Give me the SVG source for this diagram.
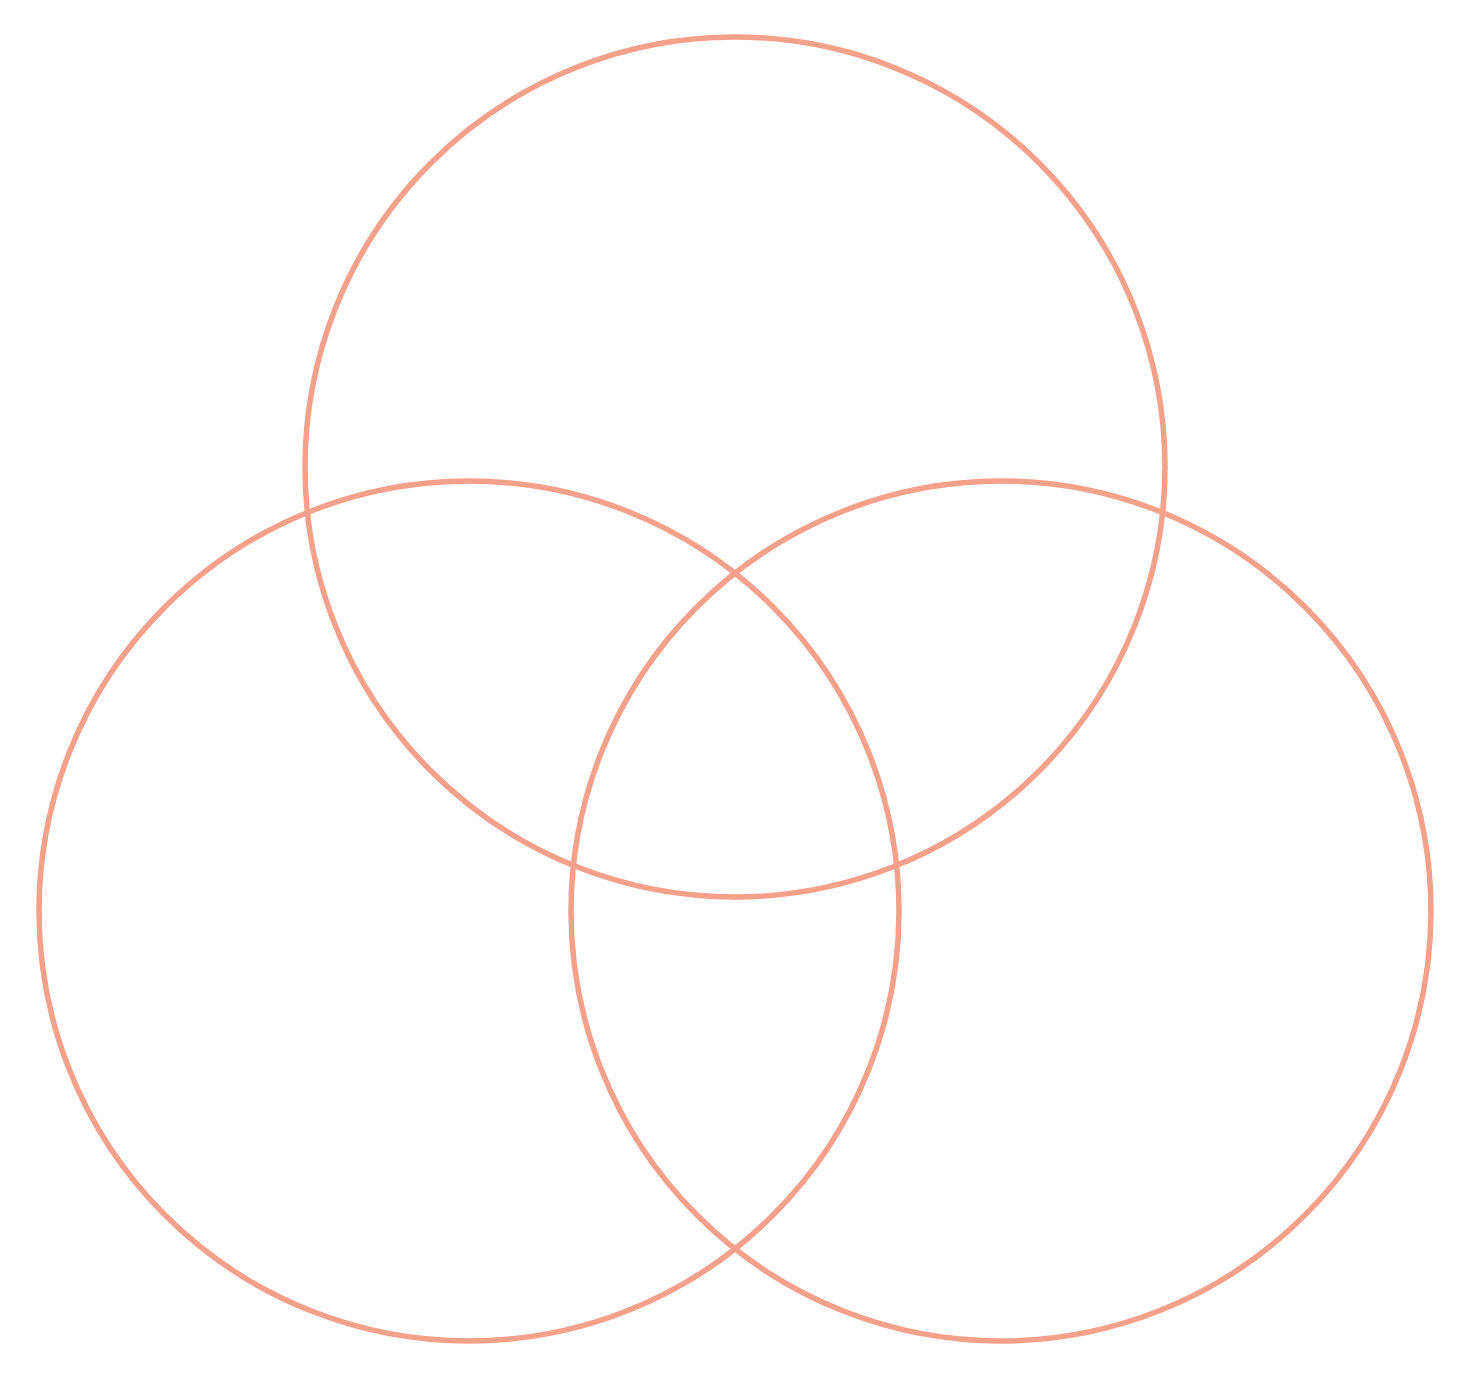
<svg xmlns="http://www.w3.org/2000/svg" width="1471" height="1380" viewBox="0 0 1471 1380">
<style>.c{fill:none;stroke:#F5A08B;stroke-width:5.5}</style>
<rect width="1471" height="1380" fill="#fff"/>
<g id="top"><circle class="c" cx="735" cy="467" r="430"/></g>
<g id="left"><circle class="c" cx="469" cy="911" r="430"/></g>
<g id="right"><circle class="c" cx="1001" cy="911" r="430"/></g>
<g id="connectors"></g>
</svg>
